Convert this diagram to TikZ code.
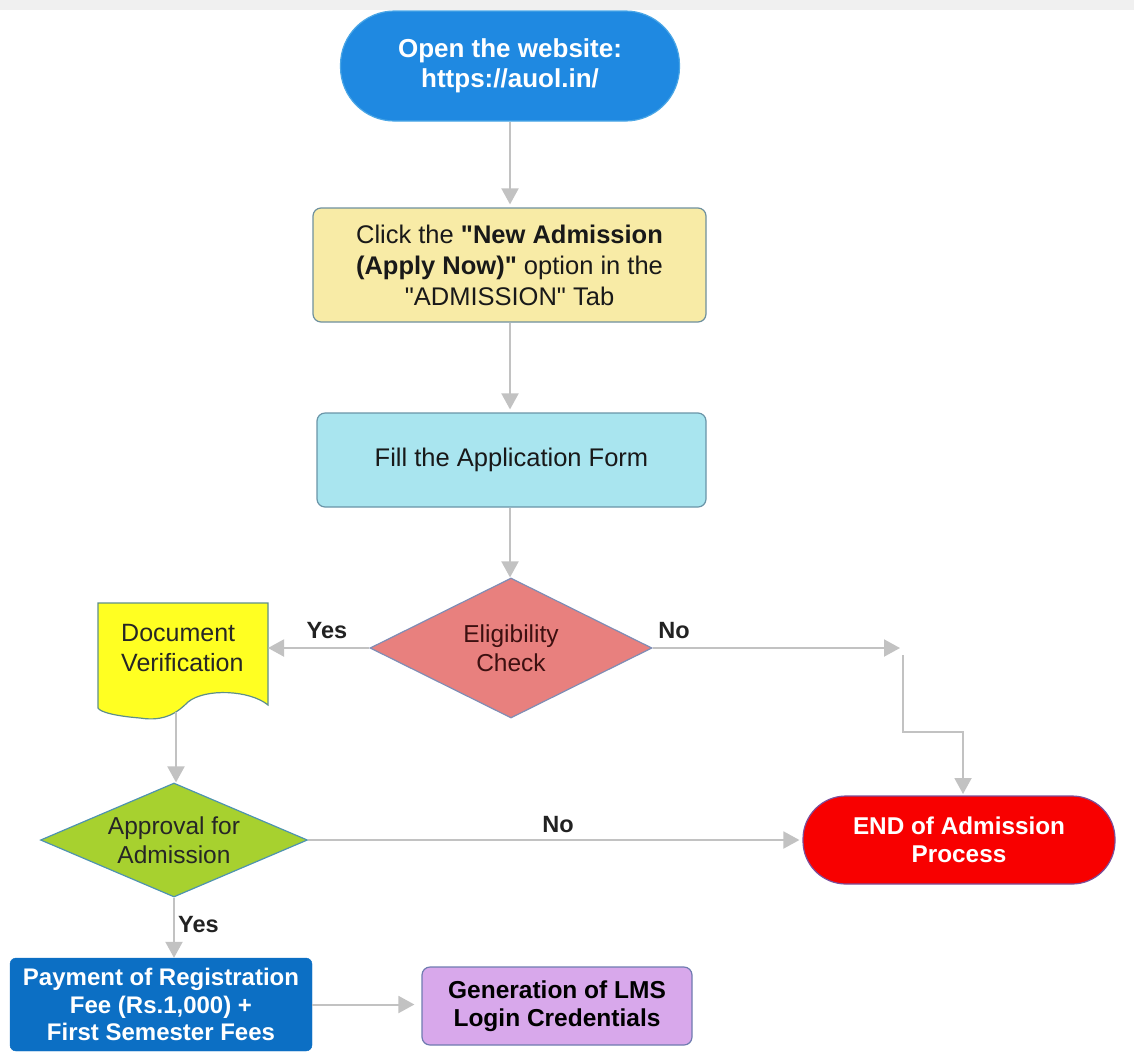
\documentclass[tikz,border=0pt]{standalone}
\usepackage{fontspec}
\setmainfont{Liberation Sans}
\newfontfamily\qfont{Liberation Sans}
\newcommand\dq{{\qfont"}}
\usetikzlibrary{arrows.meta,shapes.geometric}
\definecolor{bandgray}{HTML}{F0F0F0}
\definecolor{linegray}{HTML}{C2C2C2}
\definecolor{startblue}{HTML}{1F89E1}
\definecolor{startborder}{HTML}{4AA6E6}
\definecolor{yellowbox}{HTML}{F8EBA6}
\definecolor{yellowborder}{HTML}{6E909E}
\definecolor{cyanbox}{HTML}{A9E5EF}
\definecolor{cyanborder}{HTML}{6A95A8}
\definecolor{eligred}{HTML}{E8807E}
\definecolor{eligborder}{HTML}{7F8DB5}
\definecolor{eligtext}{HTML}{3D1010}
\definecolor{docyellow}{HTML}{FFFF22}
\definecolor{docborder}{HTML}{5E8F8A}
\definecolor{apprgreen}{HTML}{A7D12F}
\definecolor{apprborder}{HTML}{4E93B0}
\definecolor{endred}{HTML}{F80000}
\definecolor{endborder}{HTML}{7B4F9A}
\definecolor{payblue}{HTML}{0C6FC4}
\definecolor{lmspurple}{HTML}{D8A8EB}
\definecolor{lmsborder}{HTML}{6F7BB0}
\definecolor{labeltext}{HTML}{222222}
\begin{document}
\begin{tikzpicture}[x=1pt,y=-1pt,
  conn/.style={draw=linegray,line width=2pt},
  arr/.style={conn,-{Triangle[length=16pt,width=17pt]}},
  lbl/.style={font=\fontsize{23.5}{27}\selectfont\bfseries,text=labeltext,inner sep=0pt},
  procbox/.style={draw,line width=1.2pt,rounded corners=8pt,inner sep=0pt,align=center,
    font=\fontsize{25.5}{31}\selectfont,text=black!90},
  decision/.style={diamond,draw,line width=1.2pt,inner sep=0pt,align=center,
    font=\fontsize{24.5}{29}\selectfont}
]
\useasboundingbox (0,0) rectangle (1134,1053);
\fill[bandgray] (0,0) rectangle (1134,10);

% start
\node[draw=startborder,line width=1.2pt,fill=startblue,rounded corners=54pt,
  minimum width=339pt,minimum height=110pt,inner sep=0pt,text=white,align=center,
  font=\fontsize{26}{30}\selectfont\bfseries] (start) at (510,66) {Open the website:\\https://auol.in/};

\node[procbox,fill=yellowbox,draw=yellowborder,minimum width=393pt,minimum height=114pt]
  (click) at (509.5,265) {Click the \textbf{\dq New Admission}\\\textbf{(Apply Now)\dq} option in the\\\dq ADMISSION\dq{} Tab};

\node[procbox,fill=cyanbox,draw=cyanborder,minimum width=389pt,minimum height=94pt]
  (fill) at (511.5,460) {Fill the Application Form};

\node[decision,fill=eligred,draw=eligborder,text=eligtext,aspect=2,
  minimum width=282pt,minimum height=140pt] (elig) at (511,648) {Eligibility\\Check};

% document shape
\draw[fill=docyellow,draw=docborder,line width=1.2pt]
  (98,603) -- (268,603) -- (268,705)
  .. controls (250,690) and (205,688) .. (188,702)
  .. controls (178,712) and (165,722) .. (140,718)
  .. controls (115,716) and (100,712) .. (98,708) -- cycle;
\node[align=left,anchor=west,inner sep=0pt,font=\fontsize{25}{30}\selectfont,text=black!85]
  (doc) at (121,648) {Document\\Verification};
\coordinate (docb) at (176,712);
\coordinate (doce) at (268,648);

\node[decision,fill=apprgreen,draw=apprborder,text=black!85,aspect=2.34,
  minimum width=267pt,minimum height=114pt] (appr) at (174,840) {Approval for\\Admission};

\node[draw=endborder,line width=1.2pt,fill=endred,rounded corners=43pt,
  minimum width=312pt,minimum height=88pt,inner sep=0pt,text=white,align=center,
  font=\fontsize{24.3}{28}\selectfont\bfseries] (end) at (959,840) {END of Admission\\Process};

\node[draw=payblue,fill=payblue,rounded corners=6pt,minimum width=302pt,minimum height=93pt,
  inner sep=0pt,text=white,align=center,font=\fontsize{24}{27.5}\selectfont\bfseries]
  (pay) at (161,1004.5) {Payment of Registration\\Fee (Rs.1,000) +\\First Semester Fees};

\node[draw=lmsborder,line width=1.2pt,fill=lmspurple,rounded corners=8pt,minimum width=270pt,
  minimum height=78pt,inner sep=0pt,text=black,align=center,font=\fontsize{24.5}{28}\selectfont\bfseries]
  (lms) at (557,1006) {Generation of LMS\\Login Credentials};

% connectors
\coordinate (axis) at (510,0);
\draw[arr,shorten >=3pt] (start.south -| axis) -- (axis |- click.north);
\draw[arr,shorten >=3pt] (click.south -| axis) -- (axis |- fill.north);
\draw[arr] (fill.south -| axis) -- (axis |- elig.north);
\draw[arr] (elig.west) -- (doce);
\coordinate (notip) at (900,648);
\draw[arr] (elig.east) -- (notip);
\coordinate (nostart) at (903,655);
\coordinate (nobend) at (903,732);
\coordinate (endtop) at (963,796);
\draw[arr,shorten >=2pt] (nostart) -- (nobend) -| (endtop);
\draw[arr] (docb) -- (docb |- appr.north);
\draw[arr,shorten >=3pt] (appr.east) -- (end.west);
\draw[arr] (appr.south) -- (appr.south |- pay.north);
\draw[arr,shorten >=7pt] (pay.east) -- (pay.east -| lms.west);

% labels
\node[lbl] (yes1) at (327,631) {Yes};
\node[lbl] (no1) at (674,631) {No};
\node[lbl] (no2) at (558,825) {No};
\node[lbl,anchor=west] (yes2) at (178,925) {Yes};
\end{tikzpicture}
\end{document}
